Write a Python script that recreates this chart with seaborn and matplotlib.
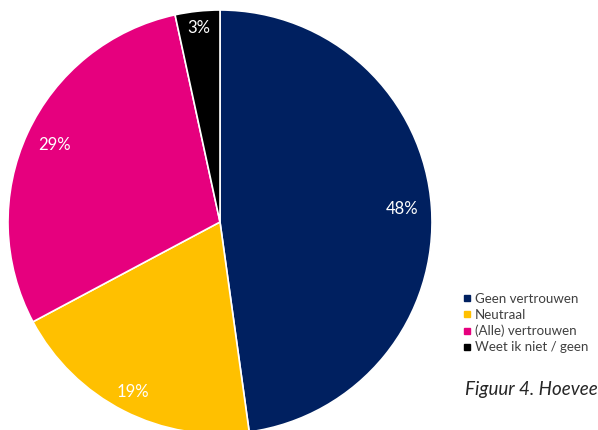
import matplotlib
matplotlib.use("Agg")
import matplotlib.pyplot as plt
from matplotlib.lines import Line2D
import numpy as np
import seaborn as sns

# data
categories = ["Geen vertrouwen", "Neutraal", "(Alle) vertrouwen", "Weet ik niet / geen"]
shares = [47.8, 19.4, 29.4, 3.4]
labels = ["48%", "19%", "29%", "3%"]
colors = ["#002060", "#FFC000", "#E6007E", "#000000"]

sns.set_theme(style="white")
plt.rcParams["font.family"] = ["Lato", "DejaVu Sans"]

fig = plt.figure(figsize=(5.98, 4.30), dpi=100)
W, H = 598, 430
cx, cy, r = 220, 222, 212
ax = fig.add_axes([(cx - r) / W, (H - cy - r) / H, 2 * r / W, 2 * r / H])

wedges, texts = ax.pie(
    shares,
    colors=colors,
    startangle=90,
    counterclock=False,
    wedgeprops=dict(edgecolor="white", linewidth=1.2),
)
ax.set_xlim(-1, 1)
ax.set_ylim(-1, 1)
ax.set_aspect("auto")
ax.axis("off")

# percentage labels inside the wedges
dists = [0.86, 0.9, 0.86, 0.92]
for w, lab, d in zip(wedges, labels, dists):
    ang = np.deg2rad((w.theta1 + w.theta2) / 2)
    ax.text(d * np.cos(ang), d * np.sin(ang), lab, color="white",
            fontsize=12, ha="center", va="center")

handles = [Line2D([0], [0], marker="s", color="none", markerfacecolor=c,
                  markeredgecolor=c, markersize=4.2) for c in colors]
fig.legend(handles, categories, loc="upper left",
           bbox_to_anchor=(457 / W, 1 - 286 / H), frameon=False,
           fontsize=9.6, labelcolor="#404040", handlelength=0.5,
           handletextpad=0.35, labelspacing=0.3, borderpad=0)

fig.text(465 / W, 1 - 389 / H, "Figuur 4. Hoevee", fontsize=13.5,
         style="italic", color="#262626", va="center", ha="left")

fig.savefig("out.png", dpi=100)
